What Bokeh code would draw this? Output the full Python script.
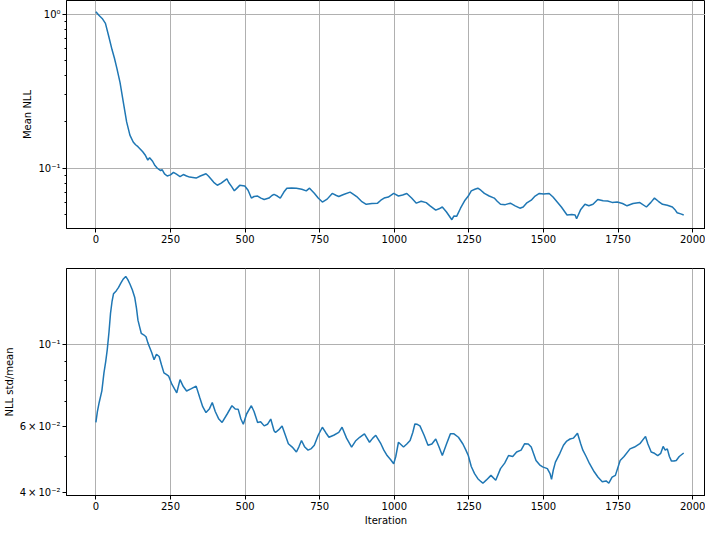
from bokeh.plotting import figure
from bokeh.models import Range1d, FixedTicker, CustomJSTickFormatter
from bokeh.layouts import column
from bokeh.embed import file_html
from bokeh.resources import INLINE

# ---------------- data ----------------
mean_iter = [0, 10, 21, 32, 43, 54, 62, 70, 81, 92, 103, 114, 125, 133, 141, 157, 165, 174, 180,
             190, 198, 206, 217, 222, 230, 239, 250, 260, 270, 282, 293, 304, 314, 325, 336, 350,
             369, 377, 385, 395, 407, 420, 439, 445, 455, 464, 472, 482, 499, 510, 521, 530, 542,
             553, 564, 580, 590, 597, 608, 618, 630, 640, 656, 672, 690, 705, 716, 732, 745, 759,
             775, 792, 806, 814, 830, 852, 862, 874, 890, 906, 925, 944, 955, 966, 980, 998, 1014,
             1028, 1042, 1058, 1074, 1090, 1107, 1120, 1139, 1150, 1161, 1175, 1193, 1200, 1209,
             1222, 1237, 1248, 1258, 1270, 1280, 1290, 1302, 1318, 1335, 1345, 1356, 1372, 1389,
             1405, 1421, 1432, 1443, 1459, 1472, 1486, 1500, 1519, 1532, 1546, 1560, 1579, 1595,
             1606, 1611, 1625, 1639, 1652, 1666, 1682, 1700, 1715, 1730, 1747, 1765, 1780, 1800,
             1823, 1845, 1860, 1872, 1885, 1899, 1915, 1932, 1940, 1948, 1960, 1970]
mean_nll = [1.04, 0.985, 0.94, 0.873, 0.72, 0.59, 0.52, 0.449, 0.36, 0.268, 0.2, 0.164, 0.148,
            0.142, 0.138, 0.128, 0.122, 0.113, 0.117, 0.111, 0.104, 0.1, 0.0965, 0.098, 0.092,
            0.089, 0.0905, 0.094, 0.0915, 0.0883, 0.091, 0.089, 0.0876, 0.087, 0.0863, 0.089,
            0.092, 0.089, 0.0854, 0.081, 0.0775, 0.08, 0.0854, 0.0808, 0.076, 0.0713, 0.074,
            0.0774, 0.0767, 0.072, 0.064, 0.0655, 0.066, 0.064, 0.0626, 0.064, 0.0665, 0.0676,
            0.066, 0.064, 0.07, 0.0742, 0.0745, 0.0742, 0.073, 0.0713, 0.0742, 0.0688, 0.064,
            0.0603, 0.063, 0.0686, 0.0665, 0.0655, 0.0675, 0.07, 0.068, 0.0655, 0.061, 0.0583,
            0.059, 0.0593, 0.062, 0.064, 0.065, 0.0686, 0.066, 0.067, 0.0686, 0.064, 0.0593,
            0.061, 0.0598, 0.057, 0.0534, 0.0545, 0.056, 0.052, 0.0463, 0.049, 0.0487, 0.055,
            0.062, 0.066, 0.0713, 0.073, 0.0742, 0.072, 0.0686, 0.066, 0.064, 0.061, 0.0583,
            0.058, 0.0593, 0.057, 0.055, 0.056, 0.0593, 0.062, 0.066, 0.0686, 0.068, 0.0686,
            0.065, 0.0603, 0.056, 0.0497, 0.05, 0.0497, 0.047, 0.054, 0.0583, 0.057, 0.0583,
            0.0626, 0.0615, 0.0612, 0.06, 0.0603, 0.059, 0.057, 0.059, 0.0598, 0.056, 0.06,
            0.064, 0.061, 0.0583, 0.0575, 0.056, 0.054, 0.0514, 0.0505, 0.0497]

std_iter = [0, 5, 11, 20, 27, 33, 38, 44, 49, 54, 59, 68, 76, 84, 92, 100, 107, 114, 122, 130,
            136, 141, 147, 152, 160, 168, 174, 179, 187, 195, 203, 212, 220, 228, 236, 244, 255,
            263, 271, 282, 293, 304, 320, 336, 348, 358, 369, 380, 390, 400, 412, 423, 440, 456,
            467, 477, 486, 494, 505, 521, 530, 542, 552, 564, 575, 586, 597, 602, 613, 624, 635,
            645, 658, 672, 680, 689, 700, 711, 722, 732, 745, 759, 770, 781, 797, 814, 825, 840,
            857, 870, 884, 900, 917, 928, 938, 955, 965, 976, 988, 998, 1005, 1014, 1031, 1042,
            1053, 1062, 1069, 1077, 1086, 1100, 1113, 1126, 1139, 1150, 1161, 1175, 1188, 1200,
            1215, 1230, 1240, 1248, 1258, 1269, 1280, 1291, 1297, 1308, 1324, 1340, 1356, 1370,
            1383, 1397, 1410, 1425, 1437, 1449, 1459, 1475, 1487, 1497, 1513, 1522, 1527, 1533,
            1540, 1555, 1567, 1578, 1589, 1600, 1614, 1625, 1632, 1643, 1654, 1670, 1683, 1697,
            1710, 1719, 1730, 1741, 1757, 1770, 1790, 1805, 1823, 1842, 1850, 1861, 1872, 1883,
            1893, 1901, 1908, 1915, 1922, 1929, 1937, 1945, 1955, 1970]
std_ratio = [0.0617, 0.066, 0.0698, 0.075, 0.0838, 0.09, 0.0966, 0.108, 0.121, 0.13, 0.1365,
             0.139, 0.142, 0.146, 0.1496, 0.152, 0.149, 0.145, 0.14, 0.1337, 0.125, 0.116, 0.111,
             0.107, 0.106, 0.1047, 0.101, 0.0986, 0.095, 0.0909, 0.094, 0.0927, 0.088, 0.0838,
             0.083, 0.0821, 0.078, 0.076, 0.0741, 0.0804, 0.077, 0.0749, 0.076, 0.0772, 0.072,
             0.068, 0.0656, 0.067, 0.0698, 0.066, 0.063, 0.0617, 0.065, 0.0684, 0.067, 0.0669,
             0.063, 0.061, 0.065, 0.0684, 0.066, 0.0617, 0.062, 0.0604, 0.061, 0.063, 0.0586,
             0.058, 0.059, 0.0604, 0.057, 0.0541, 0.053, 0.0514, 0.053, 0.0552, 0.053, 0.052,
             0.0525, 0.0536, 0.057, 0.0599, 0.058, 0.0563, 0.057, 0.058, 0.0599, 0.056, 0.053,
             0.055, 0.0563, 0.0575, 0.0546, 0.056, 0.057, 0.0541, 0.052, 0.0503, 0.049, 0.0478,
             0.05, 0.0546, 0.053, 0.054, 0.0552, 0.058, 0.0611, 0.061, 0.0604, 0.057, 0.0536,
             0.054, 0.0557, 0.053, 0.0503, 0.054, 0.0575, 0.0575, 0.0563, 0.054, 0.052, 0.0503,
             0.047, 0.045, 0.0436, 0.0428, 0.0424, 0.0432, 0.0445, 0.0432, 0.0464, 0.048, 0.0503,
             0.05, 0.0514, 0.052, 0.0541, 0.054, 0.053, 0.0488, 0.0475, 0.0469, 0.0464, 0.045,
             0.0434, 0.046, 0.0483, 0.051, 0.0536, 0.055, 0.0557, 0.056, 0.0577, 0.054, 0.052,
             0.05, 0.0479, 0.0455, 0.044, 0.0428, 0.043, 0.0424, 0.044, 0.0445, 0.0488, 0.05,
             0.0524, 0.053, 0.0541, 0.0566, 0.054, 0.0514, 0.051, 0.0503, 0.051, 0.0532, 0.052,
             0.0524, 0.05, 0.0486, 0.0486, 0.0488, 0.05, 0.0511]

x_ticks = [0, 250, 500, 750, 1000, 1250, 1500, 1750, 2000]
top_major = [0.1, 1.0]
top_minor = [0.05, 0.06, 0.07, 0.08, 0.09, 0.2, 0.3, 0.4, 0.5, 0.6, 0.7, 0.8, 0.9]
bot_major = [0.04, 0.06, 0.1]
bot_grid = [0.1]
bot_minor = [0.05, 0.07, 0.08, 0.09]

LINE = "#1f77b4"
FONT = "DejaVu Sans"

fmt = CustomJSTickFormatter(code="""
const sup = {'-':'\u207b','0':'\u2070','1':'\u00b9','2':'\u00b2','3':'\u00b3','4':'\u2074',
             '5':'\u2075','6':'\u2076','7':'\u2077','8':'\u2078','9':'\u2079'};
const e = Math.floor(Math.log10(tick) + 1e-9);
const m = Math.round(tick / Math.pow(10, e));
const s = String(e).split('').map(c => sup[c]).join('');
return (m === 1 ? '' : m + '\u2009\u00d7\u2009') + '10' + s;
""")


def style(p, ymajor, yminor, ygrid):
    p.outline_line_color = "black"
    p.outline_line_width = 1
    p.outline_line_alpha = 1
    p.background_fill_color = "white"
    p.border_fill_color = "white"
    for ax in (p.xaxis[0], p.yaxis[0]):
        ax.axis_line_color = "black"
        ax.axis_line_width = 1
        ax.major_tick_line_color = "black"
        ax.minor_tick_line_color = "black"
        ax.major_tick_out = 4
        ax.major_tick_in = 0
        ax.minor_tick_out = 2
        ax.minor_tick_in = 0
        ax.major_label_text_font = FONT
        ax.major_label_text_font_size = "10px"
        ax.major_label_text_color = "#000000"
        ax.axis_label_text_font = FONT
        ax.axis_label_text_font_size = "10px"
        ax.axis_label_text_font_style = "normal"
        ax.axis_label_text_color = "#000000"
        ax.major_label_standoff = 2
        ax.axis_label_standoff = 2
    p.xaxis[0].ticker = FixedTicker(ticks=x_ticks)
    p.xaxis[0].minor_tick_line_color = None
    p.yaxis[0].ticker = FixedTicker(ticks=ymajor, minor_ticks=yminor)
    p.yaxis[0].formatter = fmt
    p.xgrid[0].ticker = FixedTicker(ticks=x_ticks)
    p.ygrid[0].ticker = FixedTicker(ticks=ygrid)
    for g in (p.xgrid[0], p.ygrid[0]):
        g.grid_line_color = "#b0b0b0"
        g.grid_line_width = 1
        g.grid_line_alpha = 1
    p.xgrid[0].level = "underlay"
    p.ygrid[0].level = "underlay"


X_RANGE = (-98.5, 2043.0)
W = 705

p1 = figure(width=W, height=250, y_axis_type="log",
            x_range=Range1d(*X_RANGE), y_range=Range1d(0.0406, 1.229),
            output_backend="svg", toolbar_location=None,
            min_border_left=60, min_border_right=0, min_border_top=0, min_border_bottom=22)
p1.line(mean_iter, mean_nll, line_color=LINE, line_width=1.5)
p1.yaxis.axis_label = "Mean NLL"
style(p1, top_major, top_minor, top_major)

p2 = figure(width=W, height=278, y_axis_type="log",
            x_range=Range1d(*X_RANGE), y_range=Range1d(0.0393, 0.1596),
            output_backend="svg", toolbar_location=None,
            min_border_left=60, min_border_right=0, min_border_top=18, min_border_bottom=32)
p2.line(std_iter, std_ratio, line_color=LINE, line_width=1.5)
p2.yaxis.axis_label = "NLL std/mean"
p2.xaxis.axis_label = "Iteration"
style(p2, bot_major, bot_minor, bot_grid)

layout = column(p1, p2, spacing=0)

with open("out.html", "w") as f:
    f.write(file_html(layout, INLINE))
